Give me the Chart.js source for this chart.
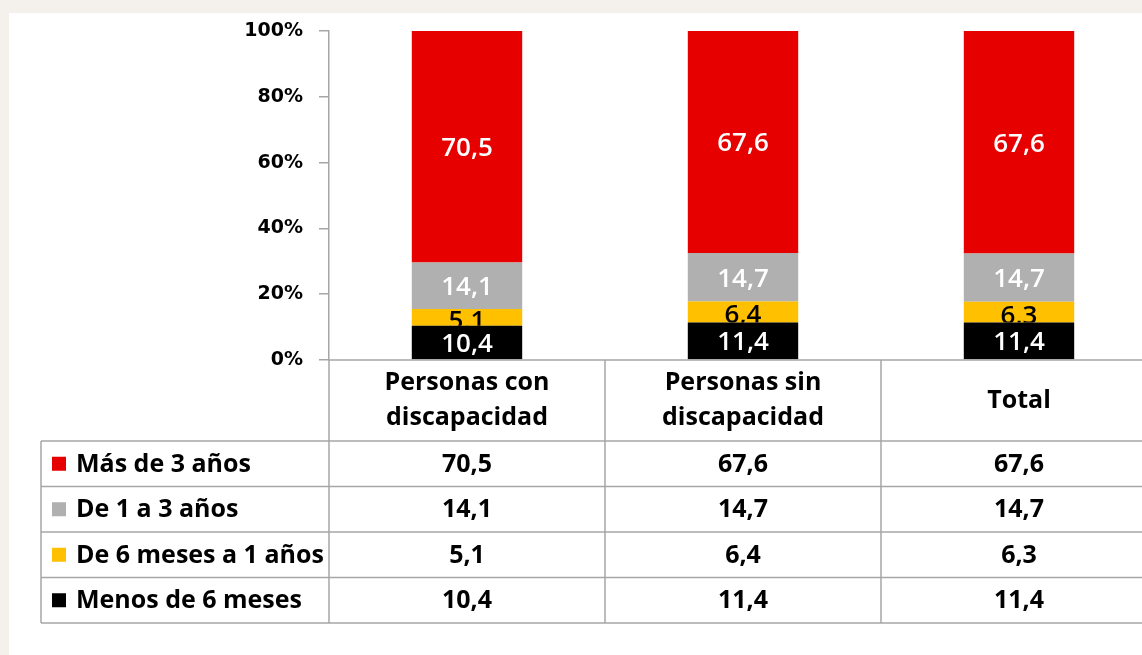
<!DOCTYPE html>
<html>
<head>
<meta charset="utf-8">
<script src="https://cdn.jsdelivr.net/npm/chart.js@4"></script>
<style>
  html, body { margin: 0; padding: 0; background: #f4f1ec; overflow: hidden; }
  #wrap { position: absolute; left: 9px; top: 13px; width: 1160px; height: 642px; background: #ffffff; }
</style>
</head>
<body>
<div id="wrap"><canvas id="chart" width="1160" height="642"></canvas></div>
<script>
// Categories and series
const categories = [['Personas con', 'discapacidad'], ['Personas sin', 'discapacidad'], ['Total']];
const seriesNames = ['Menos de 6 meses', 'De 6 meses a 1 años', 'De 1 a 3 años', 'Más de 3 años'];
const menos6 = [10.4, 11.4, 11.4];
const seisA1 = [5.1, 6.4, 6.3];
const unoA3 = [14.1, 14.7, 14.7];
const mas3 = [70.5, 67.6, 67.6];
const yTicks = [0, 20, 40, 60, 80, 100];

const colors = ['#000000', '#ffc000', '#b0b0b0', '#e60000'];
const labelColors = ['#ffffff', '#000000', '#ffffff', '#ffffff'];
const FONT = '"Open Sans", Lato, sans-serif';
const LINE = '#a6a6a6';

function fmt(v) {
    return v.toFixed(1).replace('.', ',');
}

// Labels inside each bar segment, clipped to the segment
const segmentLabels = {
    id: 'segmentLabels',
    afterDatasetsDraw(chart) {
        const ctx = chart.ctx;
        chart.data.datasets.forEach((ds, di) => {
            const meta = chart.getDatasetMeta(di);
            meta.data.forEach((bar, i) => {
                const p = bar.getProps(['x', 'y', 'base', 'width'], true);
                const top = Math.min(p.y, p.base), bottom = Math.max(p.y, p.base);
                ctx.save();
                ctx.beginPath();
                ctx.rect(p.x - p.width / 2, top, p.width, bottom - top);
                ctx.clip();
                ctx.fillStyle = labelColors[di];
                ctx.font = '600 26px ' + FONT;
                ctx.textAlign = 'center';
                ctx.textBaseline = 'middle';
                ctx.fillText(fmt(ds.data[i]), p.x, (top + bottom) / 2 + (di === 1 ? 4 : 2));
                ctx.restore();
            });
        });
    }
};

// Data table under the plot
const dataTable = {
    id: 'dataTable',
    afterDraw(chart) {
        const ctx = chart.ctx;
        const x = chart.scales.x;
        const area = chart.chartArea;
        const headerH = 81, rowH = 45.5, tableLeft = 32;
        const top = area.bottom;
        const rowsTop = top + headerH;
        const bottom = rowsTop + rowH * seriesNames.length;
        const half = (x.getPixelForValue(1) - x.getPixelForValue(0)) / 2;
        const right = x.getPixelForValue(categories.length - 1) + half;

        ctx.save();
        ctx.strokeStyle = LINE;
        ctx.lineWidth = 1.5;
        ctx.beginPath();
        ctx.moveTo(area.left, top); ctx.lineTo(right, top);
        for (let r = 0; r <= seriesNames.length; r++) {
            const y = rowsTop + r * rowH;
            ctx.moveTo(tableLeft, y); ctx.lineTo(right, y);
        }
        ctx.moveTo(tableLeft, rowsTop); ctx.lineTo(tableLeft, bottom);
        for (let i = 0; i <= categories.length; i++) {
            const cx = x.getPixelForValue(i) - half;
            ctx.moveTo(cx, top); ctx.lineTo(cx, bottom);
        }
        ctx.stroke();

        ctx.fillStyle = '#000000';
        ctx.font = 'bold 25px ' + FONT;
        ctx.textAlign = 'center';
        ctx.textBaseline = 'middle';
        categories.forEach((lines, i) => {
            const cx = x.getPixelForValue(i);
            const mid = top + headerH / 2;
            lines.forEach((t, k) => {
                ctx.fillText(t, cx, mid + (k - (lines.length - 1) / 2) * 35);
            });
        });

        // rows in legend order: top segment first
        const order = [3, 2, 1, 0];
        order.forEach((di, r) => {
            const cy = rowsTop + r * rowH + rowH / 2;
            ctx.fillStyle = colors[di];
            ctx.fillRect(tableLeft + 11, cy - 7, 14, 14);
            ctx.fillStyle = '#000000';
            ctx.textAlign = 'left';
            ctx.fillText(seriesNames[di], tableLeft + 35, cy + 1);
            ctx.textAlign = 'center';
            chart.data.datasets[di].data.forEach((v, i) => {
                ctx.fillText(fmt(v), x.getPixelForValue(i), cy + 1);
            });
        });
        ctx.restore();
    }
};

new Chart(document.getElementById('chart'), {
    type: 'bar',
    data: {
        labels: categories.map(c => c.join(' ')),
        datasets: [
            { label: seriesNames[0], data: menos6, backgroundColor: colors[0] },
            { label: seriesNames[1], data: seisA1, backgroundColor: colors[1] },
            { label: seriesNames[2], data: unoA3, backgroundColor: colors[2] },
            { label: seriesNames[3], data: mas3, backgroundColor: colors[3] }
        ]
    },
    options: {
        responsive: false,
        animation: false,
        events: [],
        layout: { padding: { top: 18, right: 12, bottom: 295, left: 0 } },
        datasets: { bar: { categoryPercentage: 0.8, barPercentage: 0.5 } },
        plugins: { legend: { display: false }, tooltip: { enabled: false } },
        scales: {
            x: { stacked: true, display: false },
            y: {
                stacked: true,
                min: 0,
                max: 100,
                afterFit(scale) {
                    scale.width = 320;
                    scale.paddingTop = 0;
                    scale.paddingBottom = 0;
                },
                afterBuildTicks(scale) { scale.ticks = yTicks.map(v => ({ value: v })); },
                ticks: {
                    padding: 16,
                    color: '#000000',
                    font: { family: '"DejaVu Sans", sans-serif', size: 19, weight: 'bold' },
                    callback: v => v + '%'
                },
                grid: { drawOnChartArea: false, drawTicks: true, tickLength: 10, color: LINE, lineWidth: 1.5 },
                border: { color: LINE, width: 1.5 }
            }
        }
    },
    plugins: [segmentLabels, dataTable]
});
</script>
</body>
</html>
